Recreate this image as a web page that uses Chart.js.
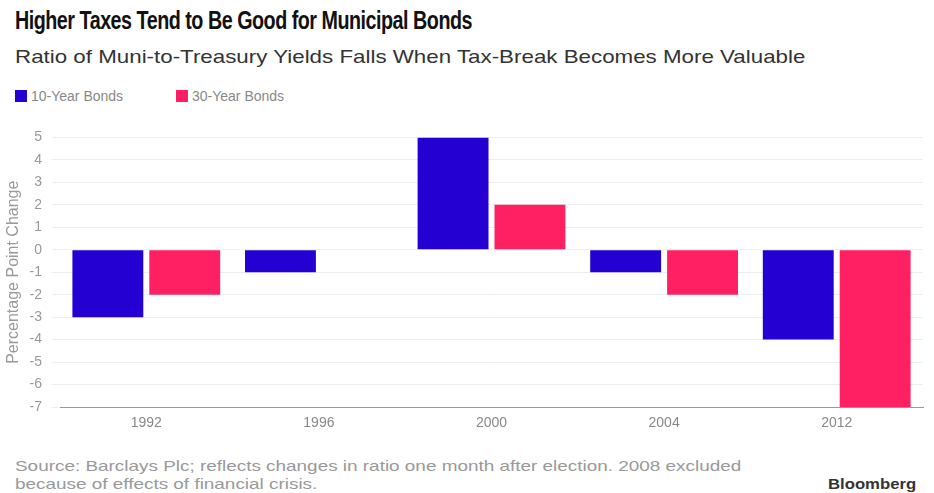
<!DOCTYPE html>
<html>
<head>
<meta charset="utf-8">
<script src="https://cdn.jsdelivr.net/npm/chart.js@4"></script>
<style>
  body { margin: 0; width: 934px; height: 493px; background: #fff; position: relative; overflow: hidden; font-family: "Liberation Sans", Arial, sans-serif; }
  .txt { position: absolute; white-space: nowrap; transform-origin: left top; }
  #title { left: 15px; top: 6px; font-size: 25px; font-weight: bold; color: #111; letter-spacing: -0.6px; }
  #subtitle { left: 15px; top: 46px; font-size: 19px; color: #333; }
  .leg { position: absolute; top: 88px; font-size: 14px; color: #888; line-height: 16px; }
  .leg span { display: inline-block; width: 12px; height: 12px; vertical-align: -1px; margin-right: 4px; }
  #source { left: 15px; top: 457px; font-size: 15px; color: #999; line-height: 18px; }
  #brand { left: 828px; top: 475px; font-size: 15px; font-weight: bold; color: #333; }
  #wrap { position: absolute; left: 0; top: 119px; width: 934px; height: 326px; }
</style>
</head>
<body>
<div id="title" class="txt">Higher Taxes Tend to Be Good for Municipal Bonds</div>
<div id="subtitle" class="txt">Ratio of Muni-to-Treasury Yields Falls When Tax-Break Becomes More Valuable</div>
<div class="leg" style="left:15px"><span style="background:#2400d2"></span>10-Year Bonds</div>
<div class="leg" style="left:176px"><span style="background:#ff1f63"></span>30-Year Bonds</div>
<div id="wrap"><canvas id="chart"></canvas></div>
<div id="source" class="txt">Source: Barclays Plc; reflects changes in ratio one month after election. 2008 excluded<br>because of effects of financial crisis.</div>
<div id="brand" class="txt">Bloomberg</div>
<script>
// election years (2008 left out in the source)
const years = ['1992', '1996', '2000', '2004', '2012'];
const tenYear = [-3, -1, 5, -1, -4];
const thirtyYear = [-2, null, 2, -2, -7];
const yTicks = [5, 4, 3, 2, 1, 0, -1, -2, -3, -4, -5, -6, -7];

const blue = '#2400d2';
const pink = '#ff1f63';

// squeeze header text to the widths seen in the picture
const fitWidth = (id, w) => {
    const el = document.getElementById(id);
    el.style.transform = `scaleX(${w / el.offsetWidth})`;
};
fitWidth('title', 457);
fitWidth('subtitle', 790);
fitWidth('source', 726);
fitWidth('brand', 88);

const ctx = document.getElementById('chart').getContext('2d');
new Chart(ctx, {
    type: 'bar',
    data: {
        labels: years,
        datasets: [
            { label: '10-Year Bonds', data: tenYear, backgroundColor: blue },
            { label: '30-Year Bonds', data: thirtyYear, backgroundColor: pink }
        ]
    },
    options: {
        responsive: true,
        maintainAspectRatio: false,
        animation: false,
        categoryPercentage: 0.891,
        barPercentage: 0.922,
        layout: { padding: { top: 5, right: 11, left: 0, bottom: 0 } },
        plugins: {
            legend: { display: false },
            tooltip: { enabled: false }
        },
        scales: {
            x: {
                grid: { display: false, drawTicks: true, tickLength: 5 },
                border: { color: '#999', width: 1 },
                ticks: { color: '#888', font: { size: 14 }, padding: 3 },
                afterFit: (scale) => { scale.height = 38; }
            },
            y: {
                min: -7,
                max: 5,
                afterBuildTicks: (scale) => { scale.ticks = yTicks.map(v => ({ value: v })); },
                grid: { color: '#eeeeee', tickColor: '#eeeeee', tickLength: 8 },
                border: { display: false },
                ticks: { color: '#999', font: { size: 14 }, padding: 10 },
                title: {
                    display: true,
                    text: 'Percentage Point Change',
                    color: '#999',
                    font: { size: 16 },
                    padding: { top: 4, bottom: 0 }
                },
                afterFit: (scale) => { scale.width = 60; }
            }
        }
    }
});
</script>
</body>
</html>
